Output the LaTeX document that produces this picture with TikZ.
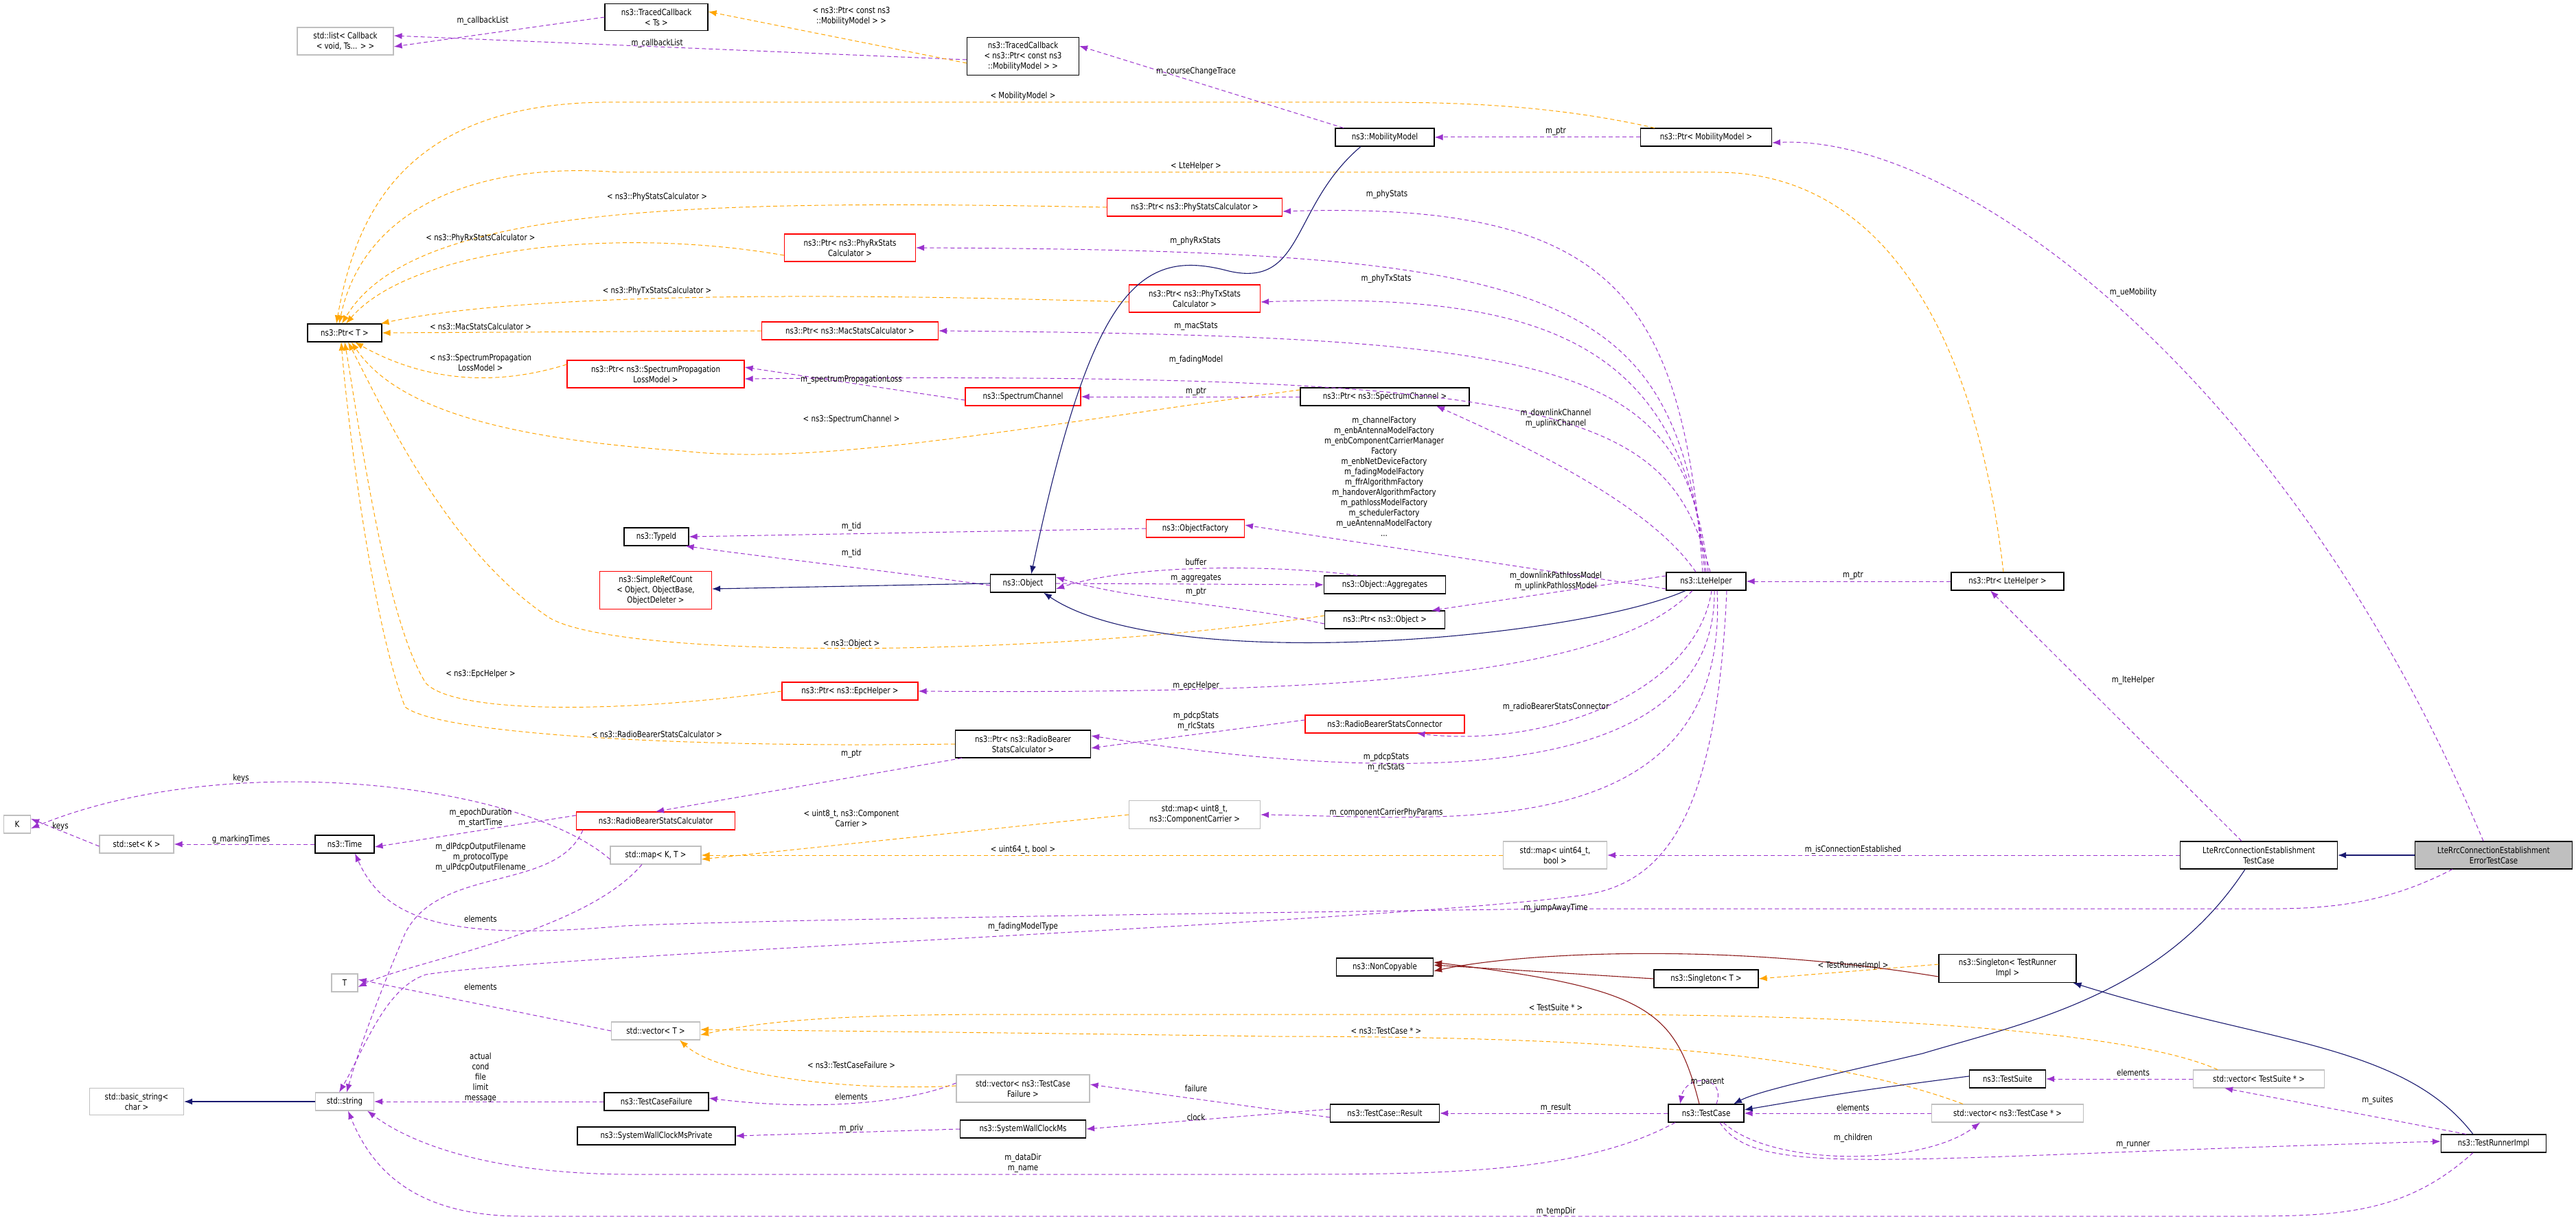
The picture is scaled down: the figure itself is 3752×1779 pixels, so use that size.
\documentclass[tikz,border=0pt]{standalone}
\usepackage{fontspec}
\setmainfont{DejaVu Sans}[FakeStretch=0.82]
\usetikzlibrary{arrows.meta}
\newcommand{\fs}{\fontsize{12.5}{15}\selectfont}
\definecolor{usec}{HTML}{9A32CD}
\definecolor{tmplc}{HTML}{FFA500}
\definecolor{inhc}{HTML}{191970}
\definecolor{ncc}{HTML}{8B1A1A}
\tikzset{
 cls/.style={draw=black, fill=white, line width=1.1, align=center, font=\fs, inner sep=1, minimum height=26},
 rcls/.style={cls, draw=red},
 gcls/.style={cls, draw=black!25},
 lbl/.style={font=\fs, align=center, inner sep=0},
 usee/.style={draw=usec, line width=1.0, dash pattern=on 6 off 4, -{Latex[length=12,width=9]}},
 tmpl/.style={draw=tmplc, line width=1.0, dash pattern=on 6 off 4, -{Latex[length=12,width=9]}},
 inh/.style={draw=inhc, line width=1.1, -{Latex[length=12,width=9]}},
 ncp/.style={draw=ncc, line width=1.1, -{Latex[length=12,width=9]}},
}
\begin{document}
\begin{tikzpicture}[x=1pt,y=-1pt]
\useasboundingbox[fill=white] (0,0) rectangle (3752,1779);
% nodes
\node[gcls,minimum width=140,minimum height=40] (slist) at (503,60) {std::list< Callback\\< void, Ts... > >};
\node[cls,minimum width=150,minimum height=39] (tcts) at (956,25) {ns3::TracedCallback\\< Ts >};
\node[cls,minimum width=163,minimum height=55] (tcm) at (1490,82) {ns3::TracedCallback\\< ns3::Ptr< const ns3\\::MobilityModel > >};
\node[cls,minimum width=144] (mob) at (2017,200) {ns3::MobilityModel};
\node[cls,minimum width=191] (pmob) at (2485,200) {ns3::Ptr< MobilityModel >};
\node[cls,minimum width=108] (ptr) at (502,485) {ns3::Ptr< T >};
\node[rcls,minimum width=255] (phys) at (1740,302) {ns3::Ptr< ns3::PhyStatsCalculator >};
\node[rcls,minimum width=191,minimum height=40] (phyrx) at (1238,361) {ns3::Ptr< ns3::PhyRxStats\\Calculator >};
\node[rcls,minimum width=191,minimum height=40] (phytx) at (1740,435) {ns3::Ptr< ns3::PhyTxStats\\Calculator >};
\node[rcls,minimum width=257] (mac) at (1238,482) {ns3::Ptr< ns3::MacStatsCalculator >};
\node[rcls,minimum width=258,minimum height=40] (sprop) at (955,545) {ns3::Ptr< ns3::SpectrumPropagation\\LossModel >};
\node[rcls,minimum width=168] (sch) at (1490,578) {ns3::SpectrumChannel};
\node[cls,minimum width=246] (psch) at (2017,578) {ns3::Ptr< ns3::SpectrumChannel >};
\node[rcls,minimum width=143] (ofac) at (1741,770) {ns3::ObjectFactory};
\node[cls,minimum width=94] (tid) at (956,782) {ns3::TypeId};
\node[rcls,minimum width=163,minimum height=55] (src) at (955,860) {ns3::SimpleRefCount\\< Object, ObjectBase,\\ObjectDeleter >};
\node[cls,minimum width=95] (obj) at (1490,850) {ns3::Object};
\node[cls,minimum width=177] (agg) at (2017,852) {ns3::Object::Aggregates};
\node[cls,minimum width=116] (lte) at (2485,847) {ns3::LteHelper};
\node[cls,minimum width=164] (plte) at (2924,847) {ns3::Ptr< LteHelper >};
\node[cls,minimum width=175] (pobj) at (2017,903) {ns3::Ptr< ns3::Object >};
\node[rcls,minimum width=198] (pepc) at (1238,1007) {ns3::Ptr< ns3::EpcHelper >};
\node[rcls,minimum width=232] (rbsconn) at (2017,1055) {ns3::RadioBearerStatsConnector};
\node[cls,minimum width=197,minimum height=40] (prbsc) at (1490,1084) {ns3::Ptr< ns3::RadioBearer\\StatsCalculator >};
\node[gcls,minimum width=39] (K) at (25,1201) {K};
\node[gcls,minimum width=108] (sset) at (199,1230) {std::set< K >};
\node[cls,minimum width=86] (time) at (502,1230) {ns3::Time};
\node[rcls,minimum width=231] (rbsc) at (955,1196) {ns3::RadioBearerStatsCalculator};
\node[gcls,minimum width=132] (smap) at (955,1246) {std::map< K, T >};
\node[gcls,minimum width=191,minimum height=41] (map8) at (1740,1187) {std::map< uint8\_t,\\ns3::ComponentCarrier >};
\node[gcls,minimum width=151,minimum height=40] (map64) at (2265,1246) {std::map< uint64\_t,\\bool >};
\node[cls,minimum width=229,minimum height=40] (lrtc) at (3290,1246) {LteRrcConnectionEstablishment\\TestCase};
\node[cls,fill=black!25,minimum width=229,minimum height=40] (err) at (3632,1246) {LteRrcConnectionEstablishment\\ErrorTestCase};
\node[gcls,minimum width=38] (T) at (502,1432) {T};
\node[gcls,minimum width=129] (svec) at (955,1502) {std::vector< T >};
\node[gcls,minimum width=137,minimum height=39] (bstr) at (199,1605) {std::basic\_string<\\char >};
\node[gcls,minimum width=85] (str) at (502,1605) {std::string};
\node[cls,minimum width=152] (tcf) at (956,1605) {ns3::TestCaseFailure};
\node[gcls,minimum width=194,minimum height=40] (vtcf) at (1490,1586) {std::vector< ns3::TestCase\\Failure >};
\node[cls,minimum width=230] (swp) at (956,1655) {ns3::SystemWallClockMsPrivate};
\node[cls,minimum width=183] (swc) at (1490,1645) {ns3::SystemWallClockMs};
\node[cls,minimum width=141] (nc) at (2017,1409) {ns3::NonCopyable};
\node[cls,minimum width=152] (st) at (2485,1426) {ns3::Singleton< T >};
\node[cls,minimum width=200,minimum height=41] (stri) at (2924,1411) {ns3::Singleton< TestRunner\\Impl >};
\node[cls,minimum width=111] (ts) at (2924,1572) {ns3::TestSuite};
\node[gcls,minimum width=191] (vts) at (3290,1572) {std::vector< TestSuite * >};
\node[cls,minimum width=159] (res) at (2017,1622) {ns3::TestCase::Result};
\node[cls,minimum width=110] (tc) at (2485,1622) {ns3::TestCase};
\node[gcls,minimum width=221] (vtc) at (2924,1622) {std::vector< ns3::TestCase * >};
\node[cls,minimum width=153] (tri) at (3632,1666) {ns3::TestRunnerImpl};

% purple usage edges
\draw[usee] (tcts.west) -- ([yshift=-8]slist.east);
\draw[usee] ([yshift=-5]tcm.west) -- ([yshift=8]slist.east);
\draw[usee] ([xshift=-60]mob.north) -- ([yshift=15]tcm.east);
\draw[usee] (pmob.west) -- (mob.east);
\draw[usee] ([xshift=-15]err.north) .. controls (3330,540) and (2850,195) .. ([yshift=-8]pmob.east);
\draw[usee] ([xshift=-5]lte.north) .. controls (2450,430) and (2350,293) .. ([yshift=-6]phys.east);
\draw[usee] ([xshift=-2]lte.north) .. controls (2440,420) and (2280,365) .. (phyrx.east);
\draw[usee] ([xshift=0]lte.north) .. controls (2450,500) and (2250,425) .. ([yshift=-5]phytx.east);
\draw[usee] ([xshift=3]lte.north) .. controls (2450,530) and (2300,490) .. (mac.east);
\draw[usee] ([xshift=6]lte.north) .. controls (2430,600) and (2300,540) .. ([yshift=-7]sprop.east);
\draw[usee] ([yshift=-5]sch.west) -- ([yshift=10]sprop.east);
\draw[usee] (psch.west) -- (sch.east);
\draw[usee] ([xshift=-15]lte.north) .. controls (2400,730) and (2200,640) .. ([xshift=75]psch.south);
\draw[usee] ([yshift=-11]lte.west) -- ([yshift=5]ofac.east);
\draw[usee] (ofac.west) -- (tid.east);
\draw[usee] ([yshift=-3]obj.west) .. controls (1280,830) and (1100,810) .. ([xshift=-5]tid.south east);
\draw[usee] ([xshift=-40]agg.north) .. controls (1850,822) and (1650,822) .. ([yshift=-8]obj.east);
\draw[usee] (obj.east) -- (agg.west);
\draw[usee] ([yshift=-6]pobj.west) .. controls (1800,880) and (1650,875) .. ([yshift=9]obj.east);
\draw[usee] ([yshift=8]lte.west) -- ([xshift=-20]pobj.north east);
\draw[usee] ([xshift=-20]lte.south) .. controls (2350,980) and (2000,1012) .. (pepc.east);
\draw[usee] ([xshift=8]lte.south) .. controls (2470,1010) and (2250,1090) .. ([xshift=-70]rbsconn.south east);
\draw[usee] ([yshift=6]rbsconn.west) -- ([yshift=-6]prbsc.east);
\draw[usee] ([xshift=12]lte.south) .. controls (2500,1160) and (2000,1135) .. ([yshift=12]prbsc.east);
\draw[usee] ([xshift=16]lte.south) .. controls (2520,1240) and (2100,1190) .. (map8.east);
\draw[usee] ([xshift=10]prbsc.south west) -- (rbsc.north);
\draw[usee] ([yshift=8]rbsc.west) -- ([yshift=-4]time.east);
\draw[usee] ([xshift=10]rbsc.south west) .. controls (810,1300) and (640,1260) .. (590,1360) .. controls (560,1430) and (525,1520) .. ([xshift=3]str.north);
\draw[usee] (time.west) -- (sset.east);
\draw[usee] ([yshift=-3]sset.west) -- ([yshift=8]K.east);
\draw[usee] ([yshift=-6]smap.west) .. controls (760,1140) and (330,1090) .. ([yshift=-6]K.east);
\draw[usee] ([xshift=-20]smap.south) .. controls (850,1360) and (600,1400) .. ([yshift=-6]T.east);
\draw[usee] (svec.west) -- ([yshift=5]T.east);
\draw[usee] (tcf.west) -- (str.east);
\draw[usee] ([yshift=8]vtcf.west) .. controls (1300,1615) and (1150,1615) .. ([yshift=5]tcf.east);
\draw[usee] (swc.west) -- (swp.east);
\draw[usee] ([yshift=-6]res.west) -- ([yshift=6]vtcf.east);
\draw[usee] ([yshift=6]res.west) -- (swc.east);
\draw[usee] ([xshift=-45]tc.south) .. controls (2300,1711) and (2100,1711) .. (1850,1711) -- (921,1711) .. controls (700,1711) and (590,1660) .. ([xshift=-10]str.south east);
\draw[usee] ([xshift=-30]tri.south) .. controls (3500,1772) and (3400,1772) .. (3250,1772) -- (760,1772) .. controls (600,1772) and (540,1700) .. ([xshift=5]str.south);
\draw[usee] ([xshift=-60]err.south) .. controls (3450,1330) and (3350,1324) .. (3250,1324) -- (2266,1324) .. controls (1800,1330) and (1100,1340) .. (909,1349) .. controls (650,1372) and (560,1340) .. ([xshift=15]time.south);
\draw[usee] ([xshift=30]lte.south) .. controls (2500,1200) and (2420,1290) .. (2300,1305) .. controls (2000,1345) and (800,1390) .. (620,1420) .. controls (560,1440) and (530,1530) .. ([xshift=-8]str.north);
\draw[usee] (tc.west) -- (res.east);
\draw[usee] (vtc.west) -- (tc.east);
\draw[usee] ([xshift=25]tc.south) .. controls (2580,1700) and (2800,1700) .. ([xshift=-40]vtc.south);
\draw[usee] ([xshift=20]tc.south) .. controls (2560,1720) and (2750,1685) .. ([yshift=3]tri.west);
\draw[usee] ([xshift=15]tc.north) .. controls (2515,1565) and (2455,1565) .. ([xshift=-38]tc.north);
\draw[usee] (vts.west) -- (ts.east);
\draw[usee] ([xshift=-40]tri.north) -- ([xshift=-50]vts.south);
\draw[usee] (lrtc.west) -- (map64.east);
\draw[usee] ([xshift=-25]lrtc.north) -- ([xshift=-25]plte.south);
\draw[usee] (plte.west) -- (lte.east);

% orange template edges
\draw[tmpl] ([yshift=-10]tcm.west) -- ([yshift=8]tcts.east);
\draw[tmpl] ([xshift=-75]pmob.north) .. controls (2250,150) and (2100,149) .. (1990,149) -- (900,149) .. controls (600,145) and (520,300) .. ([xshift=-12]ptr.north);
\draw[tmpl] ([xshift=-6]plte.north) .. controls (2880,500) and (2750,251) .. (2500,251) -- (900,251) .. controls (700,235) and (530,300) .. ([xshift=-8]ptr.north);
\draw[tmpl] (phys.west) .. controls (1000,290) and (600,300) .. ([xshift=-4]ptr.north);
\draw[tmpl] ([yshift=-11]phyrx.west) .. controls (900,330) and (600,360) .. ([xshift=2]ptr.north);
\draw[tmpl] ([yshift=-5]phytx.west) .. controls (1000,420) and (700,440) .. ([xshift=-2]ptr.north east);
\draw[tmpl] (mac.west) -- (ptr.east);
\draw[tmpl] ([yshift=14]sprop.west) .. controls (700,570) and (600,545) .. ([xshift=15]ptr.south);
\draw[tmpl] ([yshift=10]psch.west) .. controls (1500,620) and (1200,680) .. (994,657) .. controls (750,640) and (580,600) .. ([xshift=10]ptr.south);
\draw[tmpl] ([yshift=6]pobj.west) .. controls (1500,960) and (900,960) .. (800,900) .. controls (650,800) and (560,600) .. ([xshift=5]ptr.south);
\draw[tmpl] (pepc.west) .. controls (900,1040) and (660,1040) .. (620,995) .. controls (560,900) and (520,600) .. ([xshift=0]ptr.south);
\draw[tmpl] (prbsc.west) .. controls (1000,1090) and (640,1070) .. (590,1030) .. controls (540,900) and (505,600) .. ([xshift=-5]ptr.south);
\draw[tmpl] (map8.west) -- ([yshift=-6]smap.east);
\draw[tmpl] (map64.west) -- (smap.east);
\draw[tmpl] ([yshift=4]vtcf.west) .. controls (1250,1590) and (1050,1570) .. ([xshift=35]svec.south);
\draw[tmpl] ([xshift=-60]vts.north) .. controls (3100,1500) and (2700,1478) .. (2300,1478) -- (1460,1478) .. controls (1200,1478) and (1100,1490) .. ([yshift=-6]svec.east);
\draw[tmpl] ([xshift=-65]vtc.north) .. controls (2650,1530) and (2300,1510) .. (1850,1510) .. controls (1500,1505) and (1200,1502) .. ([yshift=2]svec.east);
\draw[tmpl] ([yshift=6]stri.west) -- (st.east);

% inheritance
\draw[inh] ([xshift=-35]mob.south) .. controls (1880,300) and (1900,420) .. (1790,395) .. controls (1660,360) and (1590,420) .. ([xshift=12]obj.north);
\draw[inh] ([xshift=-30]lte.south) .. controls (2300,930) and (1700,985) .. ([xshift=30]obj.south);
\draw[inh] (obj.west) -- ([yshift=2]src.east);
\draw[inh] (str.west) -- (bstr.east);
\draw[inh] (err.west) -- (lrtc.east);
\draw[inh] ([xshift=-20]lrtc.south) .. controls (3150,1450) and (2950,1490) .. (2800,1535) .. controls (2650,1570) and (2560,1590) .. ([xshift=40]tc.north);
\draw[inh] ([yshift=4]ts.west) .. controls (2700,1590) .. ([yshift=5]tc.east);
\draw[inh] ([xshift=-30]tri.north) .. controls (3500,1520) and (3300,1520) .. ([xshift=-5]stri.south east);
\draw[ncp] ([yshift=-12]stri.west) .. controls (2500,1370) and (2200,1390) .. ([yshift=-6]nc.east);
\draw[ncp] (st.west) -- ([yshift=3]nc.east);
\draw[ncp] ([xshift=-10]tc.north) .. controls (2440,1470) and (2400,1440) .. ([yshift=7]nc.east);

% labels
\node[lbl] at (703,30) {m\_callbackList};
\node[lbl] at (957,63) {m\_callbackList};
\node[lbl] at (1240,24) {< ns3::Ptr< const ns3\\::MobilityModel > >};
\node[lbl] at (1742,104) {m\_courseChangeTrace};
\node[lbl] at (2266,192) {m\_ptr};
\node[lbl] at (1490,140) {< MobilityModel >};
\node[lbl] at (3107,426) {m\_ueMobility};
\node[lbl] at (1742,242) {< LteHelper >};
\node[lbl] at (957,287) {< ns3::PhyStatsCalculator >};
\node[lbl] at (2020,283) {m\_phyStats};
\node[lbl] at (700,347) {< ns3::PhyRxStatsCalculator >};
\node[lbl] at (1741,351) {m\_phyRxStats};
\node[lbl] at (957,424) {< ns3::PhyTxStatsCalculator >};
\node[lbl] at (2019,406) {m\_phyTxStats};
\node[lbl] at (700,476) {< ns3::MacStatsCalculator >};
\node[lbl] at (1742,475) {m\_macStats};
\node[lbl] at (700,528) {< ns3::SpectrumPropagation\\LossModel >};
\node[lbl] at (1742,524) {m\_fadingModel};
\node[lbl] at (1240,553) {m\_spectrumPropagationLoss};
\node[lbl] at (1742,571) {m\_ptr};
\node[lbl] at (2266,610) {m\_downlinkChannel\\m\_uplinkChannel};
\node[lbl] at (1240,611) {< ns3::SpectrumChannel >};
\node[lbl] at (2016,694) {m\_channelFactory\\m\_enbAntennaModelFactory\\m\_enbComponentCarrierManager\\Factory\\m\_enbNetDeviceFactory\\m\_fadingModelFactory\\m\_ffrAlgorithmFactory\\m\_handoverAlgorithmFactory\\m\_pathlossModelFactory\\m\_schedulerFactory\\m\_ueAntennaModelFactory\\...};
\node[lbl] at (1240,767) {m\_tid};
\node[lbl] at (1240,806) {m\_tid};
\node[lbl] at (1742,819) {buffer};
\node[lbl] at (1742,843) {m\_aggregates};
\node[lbl] at (1742,863) {m\_ptr};
\node[lbl] at (2266,847) {m\_downlinkPathlossModel\\m\_uplinkPathlossModel};
\node[lbl] at (2699,839) {m\_ptr};
\node[lbl] at (1240,938) {< ns3::Object >};
\node[lbl] at (700,982) {< ns3::EpcHelper >};
\node[lbl] at (1742,999) {m\_epcHelper};
\node[lbl] at (3107,991) {m\_lteHelper};
\node[lbl] at (2266,1030) {m\_radioBearerStatsConnector};
\node[lbl] at (1742,1051) {m\_pdcpStats\\m\_rlcStats};
\node[lbl] at (957,1070) {< ns3::RadioBearerStatsCalculator >};
\node[lbl] at (1240,1099) {m\_ptr};
\node[lbl] at (2019,1111) {m\_pdcpStats\\m\_rlcStats};
\node[lbl] at (351,1134) {keys};
\node[lbl] at (2019,1184) {m\_componentCarrierPhyParams};
\node[lbl] at (700,1192) {m\_epochDuration\\m\_startTime};
\node[lbl] at (1240,1192) {< uint8\_t, ns3::Component\\Carrier >};
\node[lbl] at (88,1204) {keys};
\node[lbl] at (351,1223) {g\_markingTimes};
\node[lbl] at (1490,1238) {< uint64\_t, bool >};
\node[lbl] at (2699,1238) {m\_isConnectionEstablished};
\node[lbl] at (700,1249) {m\_dlPdcpOutputFilename\\m\_protocolType\\m\_ulPdcpOutputFilename};
\node[lbl] at (2266,1323) {m\_jumpAwayTime};
\node[lbl] at (700,1339) {elements};
\node[lbl] at (1490,1350) {m\_fadingModelType};
\node[lbl] at (2699,1407) {< TestRunnerImpl >};
\node[lbl] at (700,1438) {elements};
\node[lbl] at (2266,1468) {< TestSuite * >};
\node[lbl] at (2019,1502) {< ns3::TestCase * >};
\node[lbl] at (1240,1552) {< ns3::TestCaseFailure >};
\node[lbl] at (3107,1563) {elements};
\node[lbl] at (700,1570) {actual\\cond\\file\\limit\\message};
\node[lbl] at (2487,1577) {m\_parent};
\node[lbl] at (1742,1586) {failure};
\node[lbl] at (1240,1598) {elements};
\node[lbl] at (3463,1603) {m\_suites};
\node[lbl] at (2266,1614) {m\_result};
\node[lbl] at (2699,1614) {elements};
\node[lbl] at (1742,1628) {clock};
\node[lbl] at (1240,1644) {m\_priv};
\node[lbl] at (2699,1658) {m\_children};
\node[lbl] at (3107,1668) {m\_runner};
\node[lbl] at (1490,1695) {m\_dataDir\\m\_name};
\node[lbl] at (2266,1765) {m\_tempDir};
\end{tikzpicture}
\end{document}
